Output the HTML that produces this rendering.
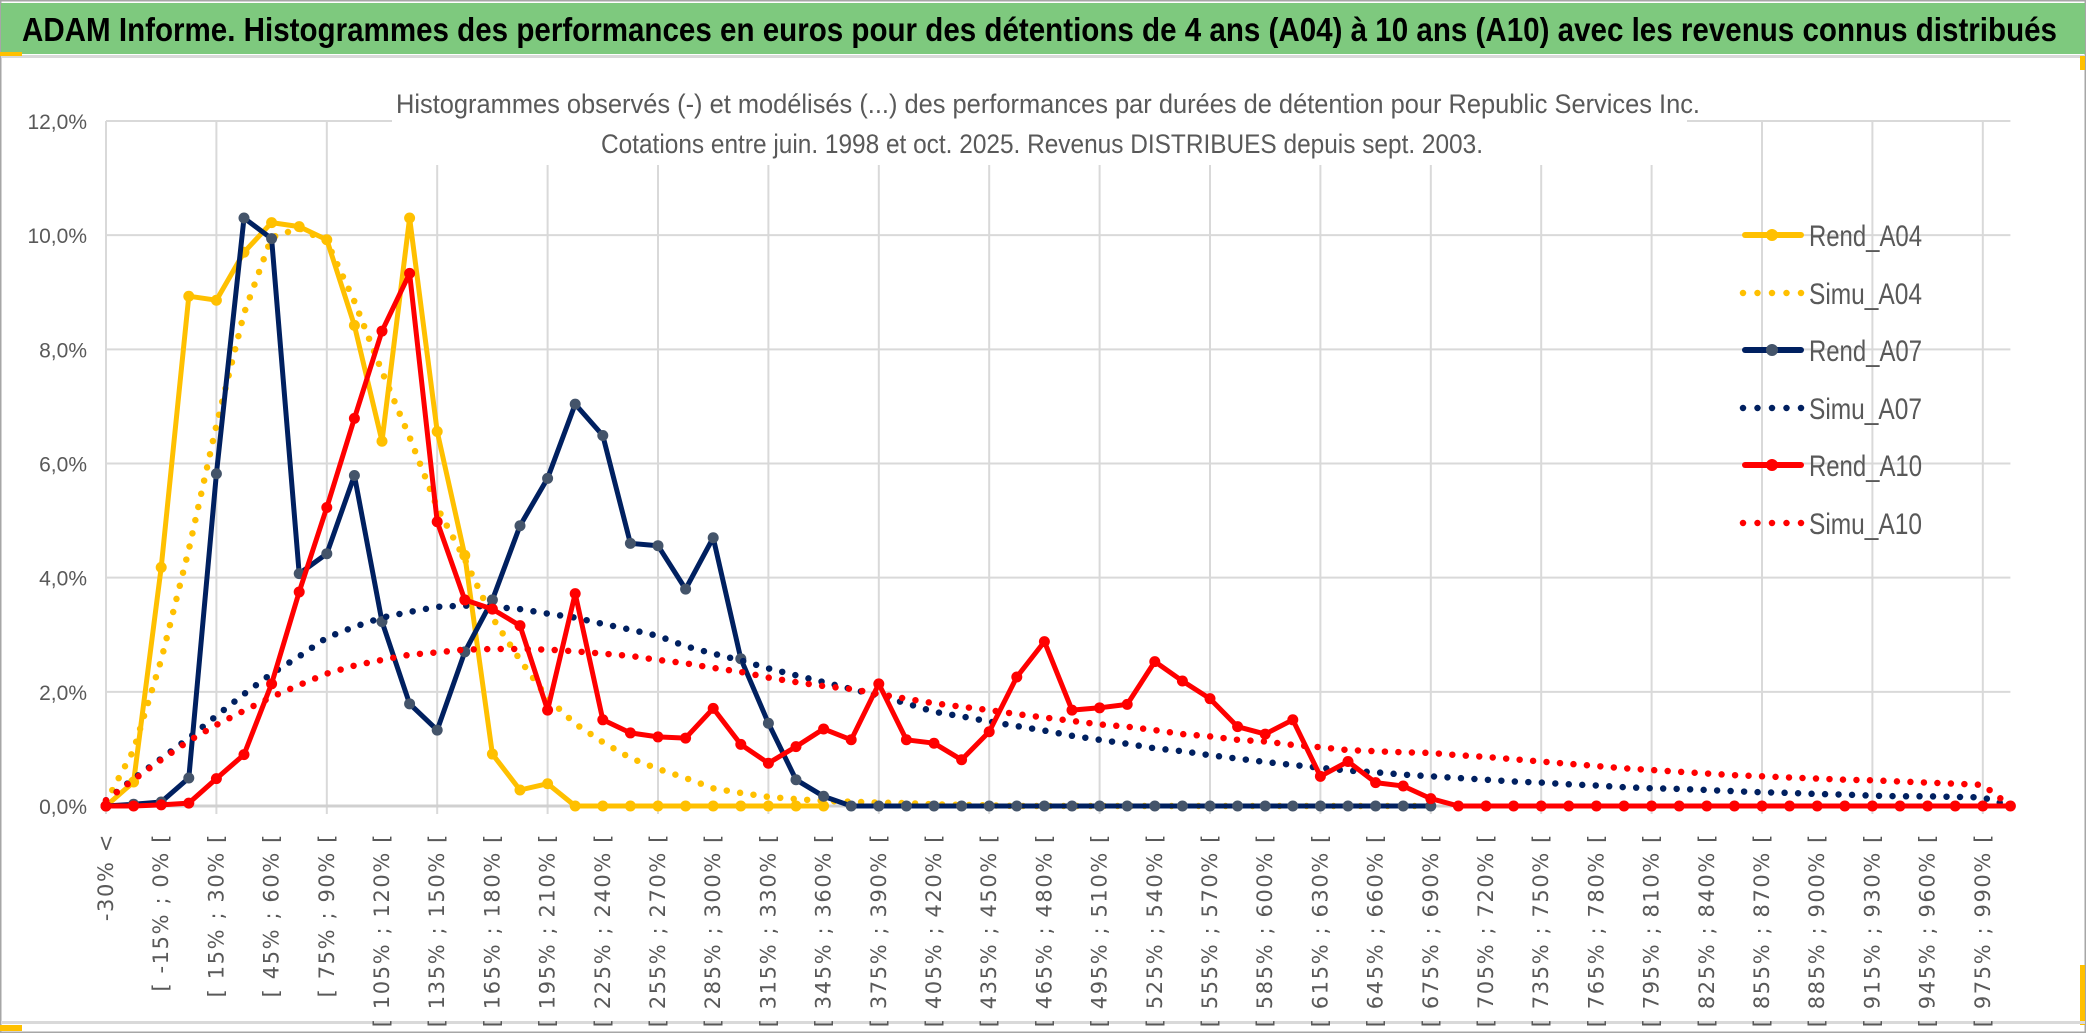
<!DOCTYPE html>
<html><head><meta charset="utf-8">
<style>
html,body{margin:0;padding:0;background:#fff;}
svg{display:block;}
</style></head>
<body>
<svg id="chart" width="2086" height="1033" viewBox="0 0 2086 1033" xmlns="http://www.w3.org/2000/svg">
  <rect x="0" y="0" width="2086" height="1033" fill="#ffffff"/>
  <rect x="0.5" y="0.5" width="2085" height="1032" fill="none" stroke="#a6a6a6" stroke-width="2"/>
  <rect x="1" y="3" width="2084" height="51" fill="#7ec97e"/>
  <text x="22" y="41" font-family="Liberation Sans, sans-serif" font-weight="bold" font-size="33" fill="#000" textLength="2035" lengthAdjust="spacingAndGlyphs">ADAM Informe. Histogrammes des performances en euros pour des détentions de 4 ans (A04) à 10 ans (A10) avec les revenus connus distribués</text>
  <rect x="1" y="55" width="2084" height="3" fill="#d9d9d9"/>
  <rect x="0" y="52" width="22" height="4" fill="#ffc000"/>
  <rect x="0" y="1025" width="22" height="6" fill="#ffc000"/>
  <rect x="2080" y="56" width="5" height="14" fill="#ffc000"/>
  <rect x="2080" y="965" width="5" height="60" fill="#ffc000"/>
  <rect x="1" y="1021" width="2084" height="3" fill="#d9d9d9"/>
  <g id="grid"></g>
  <rect x="392" y="60" width="1295" height="105" fill="#ffffff"/>
  <text x="396" y="113" font-family="Liberation Sans, sans-serif" font-size="27" fill="#595959" textLength="1304" lengthAdjust="spacingAndGlyphs">Histogrammes observés (-) et modélisés (...) des performances par durées de détention pour Republic Services Inc.</text>
  <text x="601" y="153" font-family="Liberation Sans, sans-serif" font-size="27" fill="#595959" textLength="882" lengthAdjust="spacingAndGlyphs">Cotations entre juin. 1998 et oct. 2025. Revenus DISTRIBUES depuis sept. 2003.</text>
  <g id="yaxis"></g>
  <g id="xaxis"></g>
  <g id="series"></g>
  <g id="legend"></g>
</svg>
<script>
// ---- data ----
const yTicks = [0, 2, 4, 6, 8, 10, 12];
const yTickLabels = ["0,0%", "2,0%", "4,0%", "6,0%", "8,0%", "10,0%", "12,0%"];
const categories = ["-30% <"];
for (let k = 1; k < 70; k++) { categories.push("[ " + (-30 + 15 * (k - 1)) + "% ; " + (-15 + 15 * (k - 1)) + "% ["); }

const rendA04 = [0,0.42,4.18,8.93,8.86,9.7,10.22,10.15,9.92,8.42,6.39,10.3,6.56,4.39,0.91,0.28,0.39,0,0,0,0,0,0,0,0,0,0];
const simuA04 = [0.07,0.98,2.56,4.49,6.67,8.63,9.96,10.12,9.89,8.84,7.61,6.46,5.23,4.32,3.3,2.56,1.89,1.44,1.12,0.84,0.65,0.49,0.31,0.23,0.16,0.12,0.09,0.075,0.06,0.05,0.03,0.02,0.01,0,0,0,0,0,0,0,0,0,0,0,0,0,0,0,0];
const rendA07 = [0,0.03,0.07,0.49,5.82,10.3,9.94,4.07,4.42,5.79,3.23,1.79,1.33,2.7,3.61,4.91,5.74,7.04,6.49,4.6,4.56,3.8,4.7,2.58,1.45,0.46,0.17,0,0,0,0,0,0,0,0,0,0,0,0,0,0,0,0,0,0,0,0,0,0];
const simuA07 = [0.1,0.48,0.83,1.19,1.58,1.96,2.32,2.62,2.95,3.14,3.3,3.4,3.49,3.51,3.49,3.45,3.37,3.3,3.19,3.09,2.98,2.8,
  2.67,2.55,2.41,2.29,2.17,2.05,1.93,1.8,1.65,1.57,1.48,1.4,1.32,1.23,1.16,1.09,1.01,0.96,0.89,0.83,0.77,0.72,0.67,0.62,0.59,
  0.55,0.52,0.49,0.46,0.43,0.41,0.38,0.36,0.33,0.31,0.3,0.28,0.26,0.24,0.23,0.21,0.2,0.18,0.17,0.17,0.16,0.15,0];
const rendA10 = [0,0,0.02,0.05,0.48,0.9,2.14,3.75,5.23,6.79,8.32,9.33,4.98,3.61,3.45,3.16,1.68,3.72,1.51,1.28,1.21,1.19,
  1.71,1.08,0.75,1.04,1.35,1.16,2.14,1.16,1.1,0.81,1.3,2.26,2.88,1.68,1.72,1.78,2.53,2.19,1.88,1.39,1.26,1.51,0.52,0.78,0.41,0.35,
  0.13,0,0,0,0,0,0,0,0,0,0,0,0,0,0,0,0,0,0,0,0,0];
const simuA10 = [0.1,0.46,0.81,1.14,1.42,1.67,1.91,2.12,2.32,2.46,2.56,2.65,2.69,2.74,2.75,2.75,2.74,2.71,2.67,2.63,2.56,2.5,
  2.42,2.35,2.25,2.17,2.1,2.05,1.96,1.88,1.8,1.74,1.68,1.61,1.55,1.49,1.43,1.39,1.33,1.26,1.22,1.16,1.13,1.07,1.03,0.98,0.96,
  0.94,0.93,0.89,0.86,0.82,0.78,0.74,0.70,0.66,0.63,0.6,0.57,0.54,0.52,0.5,0.48,0.46,0.45,0.43,0.41,0.39,0.37,0];
const seriesNames = ["Rend_A04","Simu_A04","Rend_A07","Simu_A07","Rend_A10","Simu_A10"];

// ---- scales ----
const NS = "http://www.w3.org/2000/svg";
const X0 = 106, STEP = 27.6, Y0 = 806, YTOP = 121, YMAX = 12;
function xs(i) { return X0 + i * STEP; }
function ys(v) { return Y0 - (v / YMAX) * (Y0 - YTOP); }
function mk(tag, attrs, parent) {
  const e = document.createElementNS(NS, tag);
  for (const k in attrs) e.setAttribute(k, attrs[k]);
  parent.appendChild(e);
  return e;
}

// gridlines
const grid = document.getElementById("grid");
for (let t = 1; t < yTicks.length; t++) {
  const l = mk("line", {x1: X0, x2: xs(69), y1: ys(yTicks[t]), y2: ys(yTicks[t]), stroke: "#d9d9d9", "stroke-width": 2}, grid);
  
  
}
for (let i = 0; i < categories.length; i += 4) {
  const l = mk("line", {x1: xs(i), x2: xs(i), y1: YTOP, y2: Y0 + 8, stroke: "#d9d9d9", "stroke-width": 2}, grid);
  
  
}
const ax = mk("line", {x1: X0, x2: xs(69) + 4, y1: Y0, y2: Y0, stroke: "#d0d0d0", "stroke-width": 3}, grid);



// y labels
const yaxis = document.getElementById("yaxis");
for (let t = 0; t < yTicks.length; t++) {
  const tx = mk("text", {x: 87, y: ys(yTicks[t]) + 8, "text-anchor": "end", "font-family": "Liberation Sans, sans-serif", "font-size": 21, fill: "#595959"}, yaxis);
  tx.textContent = yTickLabels[t];
  
  
}
// x labels
const xaxis = document.getElementById("xaxis");
for (let i = 0; i < categories.length; i += 2) {
  const cx = xs(i) + 7, cy = 833;
  const tx = mk("text", {x: cx, y: cy, "text-anchor": "end", transform: "rotate(-90 " + cx + " " + cy + ")", "font-family": "DejaVu Sans, sans-serif", "font-size": 21, "letter-spacing": "1.6", fill: "#595959"}, xaxis);
  tx.textContent = categories[i];
  
  
}

// series
const seriesG = document.getElementById("series");
function pathOf(arr) {
  let d = "", pen = false;
  arr.forEach((v, i) => {
    if (v === null || v === undefined) { pen = false; return; }
    d += (pen ? "L" : "M") + xs(i).toFixed(1) + " " + ys(v).toFixed(1) + " ";
    pen = true;
  });
  return d;
}
function solid(arr, color, mcolor, name) {
  const g = mk("g", {}, seriesG);
  
  
  const p = mk("path", {d: pathOf(arr), fill: "none", stroke: color, "stroke-width": 5, "stroke-linejoin": "round"}, g);
  
  
  arr.forEach((v, i) => {
    if (v === null || v === undefined) return;
    const c = mk("circle", {cx: xs(i), cy: ys(v), r: 5.5, fill: mcolor}, g);
    
    
  });
}
function dotted(arr, color, name) {
  const p = mk("path", {d: pathOf(arr), fill: "none", stroke: color, "stroke-width": 6.5, "stroke-linecap": "round", "stroke-dasharray": "0 13.5"}, seriesG);
  
  
}
solid(rendA04, "#ffc000", "#ffc000", "rend-a04");
dotted(simuA04, "#ffc000", "simu-a04");
solid(rendA07, "#002060", "#44546a", "rend-a07");
dotted(simuA07, "#002060", "simu-a07");
solid(rendA10, "#ff0000", "#ff0000", "rend-a10");
dotted(simuA10, "#ff0000", "simu-a10");

// legend
const legend = document.getElementById("legend");
const legColors = ["#ffc000","#ffc000","#002060","#002060","#ff0000","#ff0000"];
const legMarker = ["#ffc000",null,"#44546a",null,"#ff0000",null];
const legY = [235, 293, 350, 408, 465, 523];
for (let k = 0; k < seriesNames.length; k++) {
  const y = legY[k];
  const g = mk("g", {}, legend);
  
  
  if (legMarker[k]) {
    mk("line", {x1: 1745, x2: 1801, y1: y, y2: y, stroke: legColors[k], "stroke-width": 6, "stroke-linecap": "round"}, g);
    mk("circle", {cx: 1772, cy: y, r: 6, fill: legMarker[k]}, g);
  } else {
    mk("line", {x1: 1743, x2: 1803, y1: y, y2: y, stroke: legColors[k], "stroke-width": 6.5, "stroke-linecap": "round", "stroke-dasharray": "0 14.5"}, g);
  }
  const t = mk("text", {x: 1809, y: y + 11, "font-family": "Liberation Sans, sans-serif", "font-size": 30, fill: "#595959", textLength: 113, lengthAdjust: "spacingAndGlyphs"}, g);
  t.textContent = seriesNames[k];
  
  
}
</script>
</body></html>
